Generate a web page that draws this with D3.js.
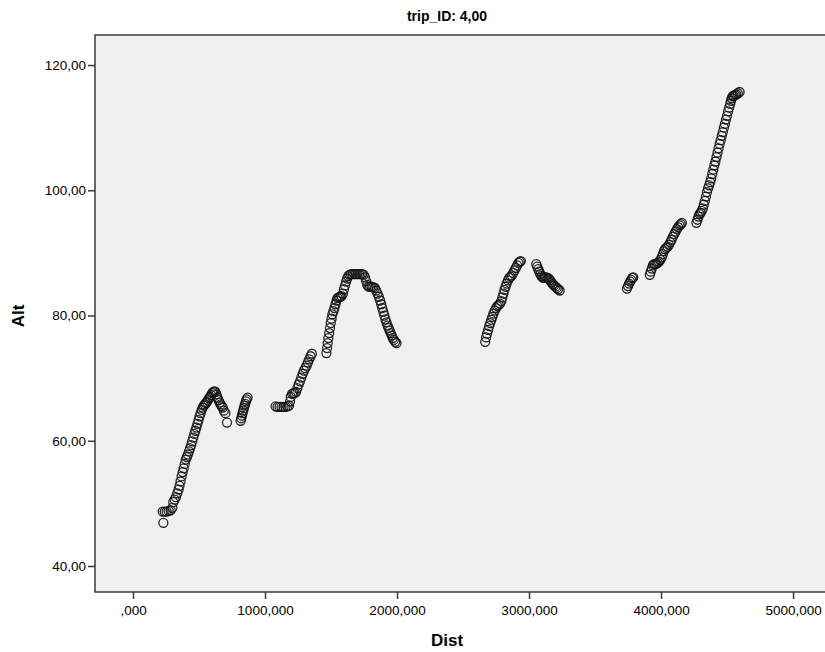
<!DOCTYPE html>
<html>
<head>
<meta charset="utf-8">
<script src="https://cdn.jsdelivr.net/npm/d3@7"></script>
<style>
  body { margin: 0; background: #fff; }
  text { font-family: "Liberation Sans", Arial, sans-serif; }
</style>
</head>
<body>
<svg width="825" height="652"></svg>
<script>
// Dist / Alt pairs, one array per stretch of the trip
const seg1 = [[230,46.9],[225,48.7],[240,48.7],[255,48.7],[270,48.8],[285,48.9],[298,49.3],[305,50.2],[315,50.6],[325,51],[335,51.6],[345,52.2],[352,52.8],[360,53.5],[368,54.3],[376,55],[384,55.6],[392,56.3],[400,57],[408,57.4],[416,57.8],[424,58.3],[432,58.8],[440,59.3],[448,59.9],[456,60.5],[464,61.1],[472,61.6],[480,62.1],[488,62.7],[496,63.3],[504,63.9],[512,64.4],[520,64.9],[528,65.3],[536,65.6],[544,65.8],[552,66],[560,66.2],[568,66.5],[576,66.8],[584,67],[592,67.3],[600,67.6],[608,67.8],[616,67.9],[624,67.8],[632,67.4],[640,66.9],[648,66.5],[656,66.1],[664,65.8],[672,65.5],[680,65.3],[688,64.8],[700,64.4],[712,62.9]];
const seg2 = [[815,63.2],[820,63.6],[825,64.0],[830,64.4],[835,64.8],[840,65.2],[845,65.6],[850,65.9],[855,66.3],[860,66.6],[868,66.9]];
const seg3 = [[1080,65.5],[1095,65.4],[1110,65.4],[1125,65.4],[1140,65.4],[1155,65.4],[1170,65.5],[1182,65.6],[1190,66.3],[1195,67.0],[1205,67.5],[1215,67.6],[1225,67.6],[1235,67.8],[1245,68.4],[1255,69.0],[1265,69.5],[1275,70.1],[1285,70.7],[1295,71.2],[1305,71.6],[1315,72.0],[1325,72.5],[1335,73.0],[1345,73.5],[1355,73.9]];
const seg4 = [[1465,74.0],[1470,74.8],[1475,75.6],[1480,76.4],[1486,77.2],[1492,78],[1498,78.8],[1504,79.5],[1510,80.2],[1518,80.7],[1526,81.2],[1534,81.8],[1542,82.4],[1550,82.8],[1560,82.9],[1570,83],[1580,83.1],[1590,83.5],[1598,84.2],[1606,84.8],[1614,85.4],[1622,85.9],[1630,86.3],[1640,86.5],[1652,86.6],[1664,86.6],[1676,86.6],[1688,86.6],[1700,86.6],[1712,86.6],[1724,86.6],[1736,86.6],[1748,86.5],[1758,86.1],[1766,85.5],[1774,84.9],[1784,84.6],[1796,84.6],[1808,84.6],[1820,84.5],[1832,84.4],[1842,84.0],[1852,83.5],[1862,83.0],[1872,82.4],[1880,81.8],[1888,81.2],[1896,80.6],[1904,80.0],[1912,79.4],[1920,78.9],[1928,78.4],[1936,78.0],[1944,77.6],[1952,77.2],[1960,76.8],[1968,76.4],[1976,76.1],[1986,75.8],[1996,75.6]];
const seg5 = [[2668,75.8],[2675,76.5],[2682,77.1],[2690,77.7],[2698,78.3],[2706,78.8],[2714,79.3],[2722,79.8],[2730,80.3],[2740,80.8],[2750,81.2],[2760,81.5],[2770,81.7],[2780,81.9],[2790,82.3],[2798,82.9],[2806,83.5],[2814,84.1],[2822,84.6],[2830,85.1],[2840,85.6],[2850,86.0],[2860,86.2],[2870,86.4],[2880,86.8],[2890,87.2],[2900,87.6],[2910,88.0],[2920,88.4],[2930,88.6],[2938,88.7]];
const seg6 = [[3055,88.2],[3062,87.8],[3070,87.4],[3078,87.0],[3086,86.6],[3094,86.3],[3102,86.1],[3110,86.0],[3120,86.1],[3130,86.1],[3140,86.0],[3150,85.9],[3160,85.6],[3170,85.3],[3180,85.0],[3190,84.8],[3200,84.6],[3210,84.4],[3220,84.2],[3232,84.0]];
const seg7 = [[3742,84.3],[3750,84.7],[3758,85.1],[3766,85.4],[3774,85.7],[3782,86.0],[3790,86.1]];
const seg8 = [[3915,86.5],[3922,87.0],[3930,87.5],[3938,88.0],[3946,88.2],[3955,88.2],[3965,88.3],[3975,88.4],[3985,88.6],[3995,88.9],[4005,89.3],[4014,89.8],[4022,90.3],[4030,90.6],[4040,90.8],[4050,91.0],[4060,91.3],[4070,91.7],[4080,92.1],[4090,92.6],[4100,93.0],[4110,93.4],[4120,93.8],[4130,94.1],[4140,94.4],[4150,94.6],[4158,94.8]];
const seg9 = [[4268,94.8],[4276,95.3],[4284,95.8],[4292,96.2],[4300,96.4],[4308,96.7],[4316,97.1],[4324,97.7],[4332,98.3],[4340,99.0],[4348,99.7],[4356,100.3],[4364,100.8],[4372,101.3],[4380,101.9],[4388,102.6],[4396,103.3],[4404,104.0],[4412,104.6],[4420,105.3],[4428,106.0],[4436,106.7],[4444,107.4],[4452,108.0],[4460,108.7],[4468,109.3],[4476,110.0],[4484,110.6],[4492,111.3],[4500,111.9],[4508,112.6],[4516,113.2],[4524,113.8],[4530,114.3],[4536,114.7],[4542,115.0],[4550,115.1],[4560,115.2],[4570,115.3],[4582,115.5],[4595,115.7]];

const xTicks = [0, 1000, 2000, 3000, 4000, 5000];
const yTicks = [40, 60, 80, 100, 120];

const points = [].concat(seg1, seg2, seg3, seg4, seg5, seg6, seg7, seg8, seg9);

const svg = d3.select('svg');
const m = {left: 95, right: 830, top: 35, bottom: 592};

const x = d3.scaleLinear().domain([-288, 5280]).range([m.left, m.right]);
const y = d3.scaleLinear().domain([35.85, 124.8]).range([m.bottom, m.top]);

// SPSS style: comma decimals, no leading zero
const fmtX = d => d === 0 ? ',000' : d.toFixed(3).replace('.', ',');
const fmtY = d => d.toFixed(2).replace('.', ',');

svg.append('rect')
    .attr('x', m.left).attr('y', m.top)
    .attr('width', m.right - m.left).attr('height', m.bottom - m.top)
    .attr('fill', '#f0f0f0')
    .attr('stroke', '#3a3a3a')
    .attr('stroke-width', 1.5);

const gx = svg.append('g')
    .attr('transform', `translate(0,${m.bottom})`)
    .call(d3.axisBottom(x).tickValues(xTicks).tickFormat(fmtX).tickSize(7).tickPadding(6));
const gy = svg.append('g')
    .attr('transform', `translate(${m.left},0)`)
    .call(d3.axisLeft(y).tickValues(yTicks).tickFormat(fmtY).tickSize(7).tickPadding(2));

[gx, gy].forEach(g => {
    g.select('.domain').remove();
    g.selectAll('line').attr('stroke', '#3a3a3a').attr('stroke-width', 1.5);
    g.selectAll('text')
        .style('font-family', '"Liberation Sans", Arial, sans-serif')
        .style('font-size', '13.5px')
        .attr('fill', '#000');
});

svg.append('g')
    .selectAll('circle')
    .data(points)
    .join('circle')
    .attr('cx', d => x(d[0]))
    .attr('cy', d => y(d[1]))
    .attr('r', 4.5)
    .attr('fill', 'none')
    .attr('stroke', '#111')
    .attr('stroke-opacity', 0.9)
    .attr('stroke-width', 1.3);

svg.append('text').text('trip_ID: 4,00')
    .attr('x', 447).attr('y', 21)
    .attr('text-anchor', 'middle')
    .style('font-size', '14px')
    .style('font-weight', 'bold');

svg.append('text').text('Dist')
    .attr('x', 447).attr('y', 646)
    .attr('text-anchor', 'middle')
    .style('font-size', '17px')
    .style('font-weight', 'bold');

svg.append('text').text('Alt')
    .attr('transform', 'translate(24,316) rotate(-90)')
    .attr('text-anchor', 'middle')
    .style('font-size', '17px')
    .style('font-weight', 'bold');
</script>
</body>
</html>
